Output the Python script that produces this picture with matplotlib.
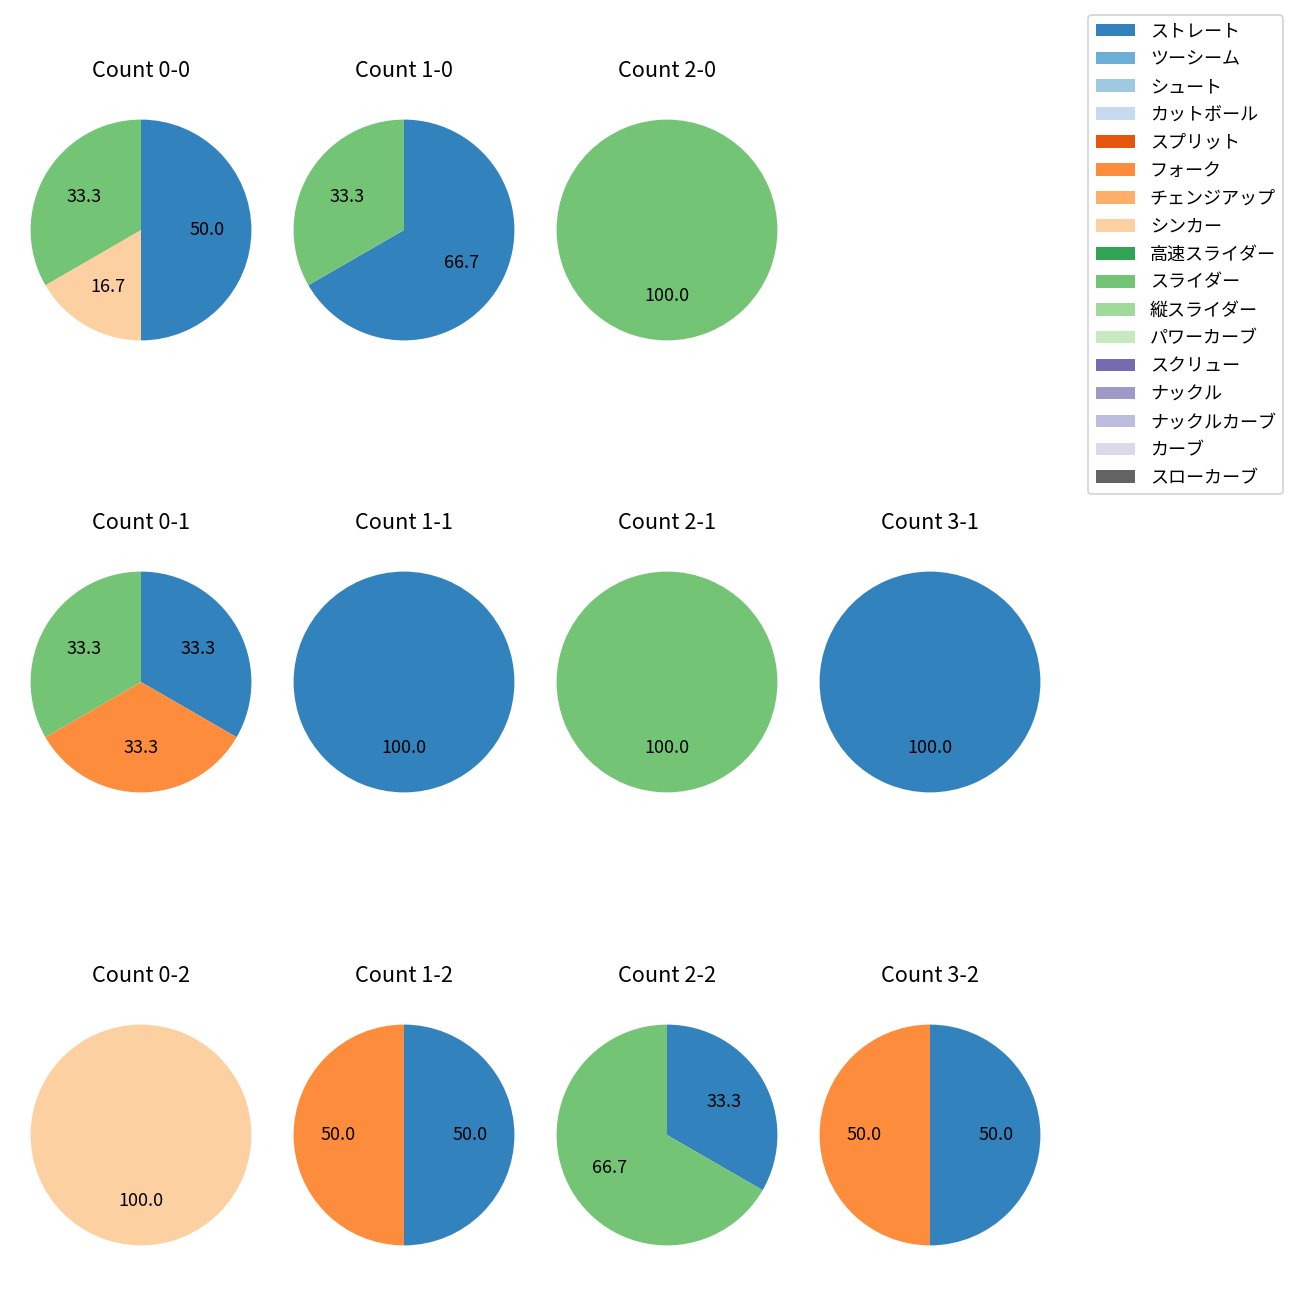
import matplotlib
matplotlib.use("Agg")
import matplotlib.pyplot as plt
from matplotlib.patches import Patch

plt.rcParams['font.family'] = ['Noto Sans CJK JP', 'DejaVu Sans']

pitch_types = ["ストレート", "ツーシーム", "シュート", "カットボール", "スプリット", "フォーク",
               "チェンジアップ", "シンカー", "高速スライダー", "スライダー", "縦スライダー",
               "パワーカーブ", "スクリュー", "ナックル", "ナックルカーブ", "カーブ", "スローカーブ"]

# counts per (balls, strikes): dict of pitch -> count
data = {
    "0-0": {"ストレート": 3, "シンカー": 1, "スライダー": 2},
    "1-0": {"ストレート": 2, "スライダー": 1},
    "2-0": {"スライダー": 1},
    "3-0": {},
    "0-1": {"ストレート": 1, "フォーク": 1, "スライダー": 1},
    "1-1": {"ストレート": 1},
    "2-1": {"スライダー": 1},
    "3-1": {"ストレート": 1},
    "0-2": {"シンカー": 1},
    "1-2": {"ストレート": 1, "フォーク": 1},
    "2-2": {"ストレート": 1, "スライダー": 2},
    "3-2": {"ストレート": 1, "フォーク": 1},
}

cmap = plt.get_cmap('tab20c')
colors = {p: cmap(i) for i, p in enumerate(pitch_types)}

W, H = 1300, 1300
fig = plt.figure(figsize=(10, 10), dpi=130)

col_cx = [141, 404, 667, 930]
row_cy = [230, 682, 1135]
aw, ah = 276, 284

for r, strikes in enumerate([0, 1, 2]):
    for c, balls in enumerate([0, 1, 2, 3]):
        key = f"{balls}-{strikes}"
        cx, cy = col_cx[c], row_cy[r]
        ax = fig.add_axes([(cx - aw / 2) / W, 1 - (cy + ah / 2) / H, aw / W, ah / H])
        d = data[key]
        if not d:
            ax.axis('off')
            continue
        labels = [p for p in pitch_types if p in d]
        vals = [d[p] for p in labels]
        ax.pie(vals, colors=[colors[p] for p in labels], autopct='%.1f',
               startangle=90, counterclock=False, textprops={'fontsize': 10})
        ax.set_aspect('auto')
        ax.set_xlim(-1.25, 1.25)
        ax.set_ylim(-1.25 * ah / aw, 1.25 * ah / aw)
        ax.set_title(f"Count {key}", fontsize=12)

handles = [Patch(facecolor=colors[p], label=p) for p in pitch_types]
fig.legend(handles=handles, loc='upper right', bbox_to_anchor=(1283 / W, 1 - 15 / H),
           borderaxespad=0, fontsize=10, labelspacing=0.55, handlelength=2.2)

fig.savefig("out.png", dpi=130)
